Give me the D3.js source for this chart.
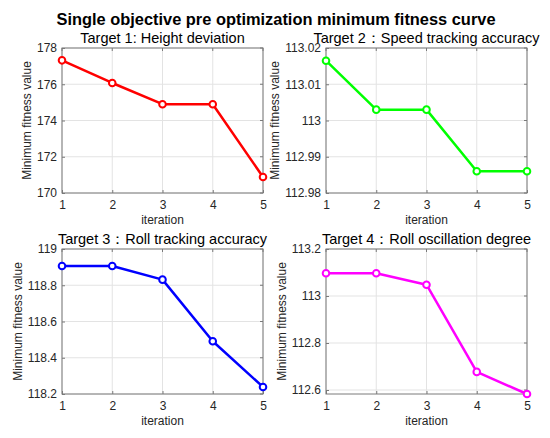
<!DOCTYPE html>
<html>
<head>
<meta charset="utf-8">
<script src="https://cdn.jsdelivr.net/npm/d3@7"></script>
<style>
  body { margin: 0; background: #fff; }
  text { font-family: "Liberation Sans", Arial, Helvetica, sans-serif; fill: #262626; }
</style>
</head>
<body>
<div id="chart"></div>
<script>
const width = 550
const height = 438

const iterations = [1, 2, 3, 4, 5]
const heightDeviation = [177.32, 176.07, 174.9, 174.9, 170.88]
const speedAccuracy = [113.0165, 113.003, 113.003, 112.986, 112.986]
const rollAccuracy = [118.906, 118.906, 118.831, 118.491, 118.239]
const rollOscillation = [113.097, 113.097, 113.048, 112.677, 112.583]

const ticks1 = [170, 172, 174, 176, 178]
const ticks2 = [112.98, 112.99, 113, 113.01, 113.02]
const ticks3 = [118.2, 118.4, 118.6, 118.8, 119]
const ticks4 = [112.6, 112.8, 113, 113.2]

const titles = [
    "Target 1: Height deviation",
    "Target 2\uFF1ASpeed tracking accuracy",
    "Target 3\uFF1ARoll tracking accuracy",
    "Target 4\uFF1ARoll oscillation degree"
]
const mainTitle = "Single objective pre optimization minimum fitness curve"

// one entry per subplot: values, y ticks, y domain, colour, box in page pixels
const panels = [
    { values: heightDeviation, ticks: ticks1, domain: [170, 178], color: "#ff0000", x0: 62, x1: 263, y0: 48, y1: 193 },
    { values: speedAccuracy, ticks: ticks2, domain: [112.98, 113.02], color: "#00ff00", x0: 326, x1: 527, y0: 48, y1: 193 },
    { values: rollAccuracy, ticks: ticks3, domain: [118.2, 119], color: "#0000ff", x0: 62, x1: 263, y0: 249, y1: 394 },
    { values: rollOscillation, ticks: ticks4, domain: [112.583, 113.2], color: "#ff00ff", x0: 326, x1: 527, y0: 249, y1: 394 }
]

const svg = d3.select("#chart")
    .append("svg")
    .attr("width", width)
    .attr("height", height)
    .attr("viewBox", [0, 0, width, height])

svg.append("text")
    .attr("x", 276)
    .attr("y", 25)
    .attr("text-anchor", "middle")
    .style("font-size", "16.4px")
    .style("font-weight", "bold")
    .style("fill", "#000")
    .text(mainTitle)

const fmt = d3.format("~g")

panels.forEach((p, k) => {
    const xScale = d3.scaleLinear([1, 5], [p.x0, p.x1])
    const yScale = d3.scaleLinear(p.domain, [p.y1, p.y0])
    const g = svg.append("g")

    // grid
    g.append("g")
        .selectAll("line")
        .data(iterations)
        .join("line")
        .attr("x1", d => xScale(d)).attr("x2", d => xScale(d))
        .attr("y1", p.y0).attr("y2", p.y1)
        .attr("stroke", "#e3e3e3").attr("stroke-width", 1)
    g.append("g")
        .selectAll("line")
        .data(p.ticks)
        .join("line")
        .attr("x1", p.x0).attr("x2", p.x1)
        .attr("y1", d => yScale(d)).attr("y2", d => yScale(d))
        .attr("stroke", "#e3e3e3").attr("stroke-width", 1)

    // axes, ticks inside like MATLAB
    const xAxis = g.append("g")
        .attr("transform", `translate(0,${p.y1})`)
        .call(d3.axisBottom(xScale).tickValues(iterations).tickSize(-3).tickPadding(7).tickFormat(fmt))
    const yAxis = g.append("g")
        .attr("transform", `translate(${p.x0},0)`)
        .call(d3.axisLeft(yScale).tickValues(p.ticks).tickSize(-3).tickPadding(5).tickFormat(fmt))
    ;[xAxis, yAxis].forEach(a => {
        a.select(".domain").remove()
        a.selectAll(".tick line").attr("stroke", "#7a7a7a")
        a.selectAll("text").style("font-size", "12px").style("fill", "#262626")
        a.attr("font-family", null).attr("font-size", null)
    })

    // top / right ticks
    g.append("g").selectAll("line")
        .data(iterations)
        .join("line")
        .attr("x1", d => xScale(d)).attr("x2", d => xScale(d))
        .attr("y1", p.y0).attr("y2", p.y0 + 3)
        .attr("stroke", "#7a7a7a")
    g.append("g").selectAll("line")
        .data(p.ticks)
        .join("line")
        .attr("x1", p.x1 - 3).attr("x2", p.x1)
        .attr("y1", d => yScale(d)).attr("y2", d => yScale(d))
        .attr("stroke", "#7a7a7a")

    g.append("rect")
        .attr("x", p.x0).attr("y", p.y0)
        .attr("width", p.x1 - p.x0).attr("height", p.y1 - p.y0)
        .attr("fill", "none")
        .attr("stroke", "#7a7a7a")
        .attr("stroke-width", 1)

    // labels
    g.append("text")
        .attr("x", (p.x0 + p.x1) / 2)
        .attr("y", p.y1 + 31)
        .attr("text-anchor", "middle")
        .style("font-size", "12px")
        .text("iteration")

    let tickW = 0
    yAxis.selectAll("text").each(function () { tickW = Math.max(tickW, this.getComputedTextLength()) })
    const lx = p.x0 - 5 - tickW - 10
    g.append("text")
        .attr("transform", `translate(${lx + 4},${(p.y0 + p.y1) / 2}) rotate(-90)`)
        .attr("text-anchor", "middle")
        .style("font-size", "12px")
        .text("Minimum fitness value")

    g.append("text")
        .attr("x", (p.x0 + p.x1) / 2)
        .attr("y", p.y0 - 5)
        .attr("text-anchor", "middle")
        .style("font-size", "14.5px")
        .style("fill", "#000")
        .text(titles[k])

    // data line + markers
    const line = d3.line()
        .x((d, i) => xScale(iterations[i]))
        .y(d => yScale(d))
    g.append("path")
        .datum(p.values)
        .attr("d", line)
        .attr("fill", "none")
        .attr("stroke", p.color)
        .attr("stroke-width", 2.5)
        .attr("stroke-linejoin", "round")
    g.append("g")
        .selectAll("circle")
        .data(p.values)
        .join("circle")
        .attr("cx", (d, i) => xScale(iterations[i]))
        .attr("cy", d => yScale(d))
        .attr("r", 3.3)
        .attr("fill", "#fff")
        .attr("stroke", p.color)
        .attr("stroke-width", 2)
})
</script>
</body>
</html>
